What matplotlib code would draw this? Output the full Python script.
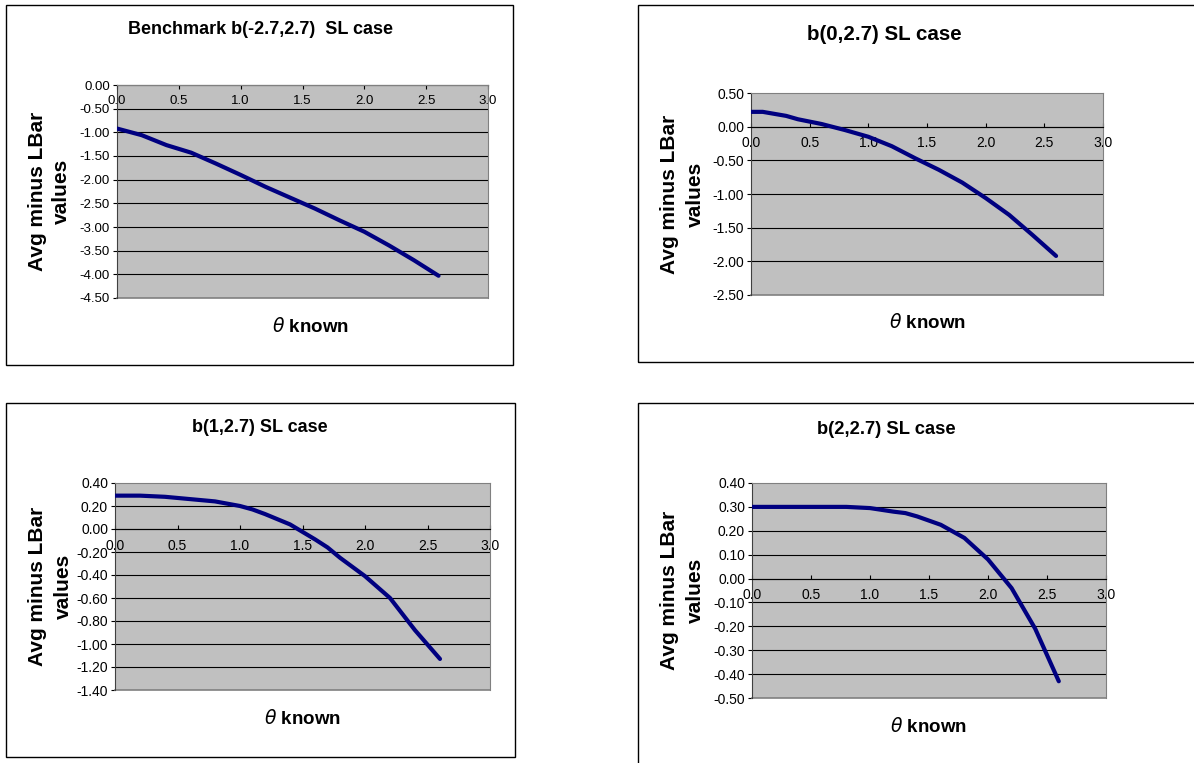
import matplotlib
matplotlib.use("Agg")
import matplotlib.pyplot as plt
from matplotlib.patches import Rectangle

# chart data
theta_a = [0.0, 0.2, 0.4, 0.6, 0.8, 1.0, 1.2, 1.4, 1.6, 1.8, 2.0, 2.2, 2.4, 2.6]
bench_vals = [-0.92, -1.06, -1.27, -1.43, -1.66, -1.90, -2.15, -2.38, -2.61, -2.86, -3.10, -3.39, -3.70, -4.03]

theta_b = [0.0, 0.1, 0.3, 0.4, 0.6, 0.8, 1.0, 1.2, 1.4, 1.6, 1.8, 2.0, 2.2, 2.4, 2.6]
b0_vals = [0.22, 0.22, 0.16, 0.11, 0.04, -0.05, -0.15, -0.29, -0.47, -0.64, -0.83, -1.06, -1.31, -1.61, -1.92]

theta_c = [0.0, 0.2, 0.4, 0.6, 0.8, 1.0, 1.1, 1.2, 1.4, 1.6, 1.7, 1.8, 2.0, 2.2, 2.4, 2.6]
b1_vals = [0.29, 0.29, 0.28, 0.26, 0.24, 0.20, 0.17, 0.13, 0.04, -0.09, -0.16, -0.25, -0.41, -0.60, -0.88, -1.13]

theta_d = [0.0, 0.2, 0.4, 0.6, 0.8, 1.0, 1.2, 1.3, 1.4, 1.6, 1.8, 2.0, 2.2, 2.4, 2.6]
b2_vals = [0.30, 0.30, 0.30, 0.30, 0.30, 0.295, 0.28, 0.274, 0.26, 0.225, 0.17, 0.08, -0.04, -0.21, -0.43]

titles = ["Benchmark b(-2.7,2.7)  SL case", "b(0,2.7) SL case", "b(1,2.7) SL case", "b(2,2.7) SL case"]
x_ticks = [0.0, 0.5, 1.0, 1.5, 2.0, 2.5, 3.0]

plt.rcParams["font.family"] = ["Liberation Sans", "DejaVu Sans"]

W, H = 1194, 763
fig = plt.figure(figsize=(W / 100, H / 100), dpi=100)
fig.patch.set_facecolor("white")

lineColor = "#000080"
plotBg = "#C0C0C0"


def fx(px):
    return px / W


def fy(py):
    return 1 - py / H


def panel(frame, area, title, title_pos, title_size, ylab_x, xlab_pos,
          xs, ys, ylim, ystep, tick_dir, tick_size):
    # outer chart frame
    fx0, fy0, fx1, fy1 = frame
    fig.patches.append(Rectangle((fx(fx0), fy(fy1)), (fx1 - fx0) / W, (fy1 - fy0) / H,
                                 transform=fig.transFigure, fill=False,
                                 edgecolor="black", linewidth=1.0))

    x0, y0, x1, y1 = area
    ax = fig.add_axes([fx(x0), fy(y1), (x1 - x0) / W, (y1 - y0) / H])
    ax.set_facecolor(plotBg)
    ax.plot(xs, ys, color=lineColor, linewidth=3.0, solid_capstyle="round", zorder=3)

    ax.set_xlim(0, 3.0)
    ax.set_ylim(*ylim)
    n = int(round((ylim[1] - ylim[0]) / ystep))
    yt = [ylim[0] + i * ystep for i in range(n + 1)]
    ax.set_yticks(yt)
    ax.set_yticklabels(["%.2f" % v for v in yt])
    ax.set_xticks(x_ticks)
    ax.set_xticklabels(["%.1f" % v for v in x_ticks])

    # grid lines, black, skip the plot area edges
    ax.yaxis.grid(True, color="black", linewidth=0.8)
    gl = ax.get_ygridlines()
    gl[0].set_visible(False)
    gl[-1].set_visible(False)
    ax.set_axisbelow(True)

    for s in ["top", "right"]:
        ax.spines[s].set_color("#808080")
    ax.spines["left"].set_color("#404040")
    ax.spines["bottom"].set_position(("data", 0))
    ax.spines["bottom"].set_color("black")
    ax.plot([0, 1], [0, 0], transform=ax.transAxes, color="#808080",
            linewidth=1.2, clip_on=False)

    ax.tick_params(axis="y", direction="out", length=3, labelsize=tick_size, pad=2)
    xpad = 4.5 if tick_dir == "out" else 7
    ax.tick_params(axis="x", direction=tick_dir, length=3, labelsize=tick_size, pad=xpad)

    fig.text(fx(title_pos[0]), fy(title_pos[1]), title, ha="center", va="center",
             fontsize=title_size, fontweight="bold")
    fig.text(fx(ylab_x[0]), fy((y0 + y1) / 2), "Avg minus LBar", rotation=90,
             ha="center", va="center", fontsize=15, fontweight="bold")
    fig.text(fx(ylab_x[1]), fy((y0 + y1) / 2), "values", rotation=90,
             ha="center", va="center", fontsize=15, fontweight="bold")
    fig.text(fx(xlab_pos[0]), fy(xlab_pos[1]), r"$\theta$ known", ha="center",
             va="center", fontsize=13.5, fontweight="bold")
    return ax


panel((6, 5, 513, 365), (117, 85, 488, 298), titles[0], (260, 30), 13,
      (38, 61), (310, 327), theta_a, bench_vals, (-4.5, 0.0), 0.5, "out", 9.5)
panel((638, 5, 1300, 362), (751, 93, 1103, 295), titles[1], (884, 34), 14.8,
      (670, 695), (927, 323), theta_b, b0_vals, (-2.5, 0.5), 0.5, "in", 10)
panel((6, 403, 515, 757), (115, 483, 490, 690), titles[2], (260, 427), 13,
      (38, 63), (302, 718), theta_c, b1_vals, (-1.4, 0.4), 0.2, "in", 10)
panel((638, 403, 1300, 900), (752, 483, 1106, 698), titles[3], (886, 429), 13.2,
      (670, 695), (928, 727), theta_d, b2_vals, (-0.5, 0.4), 0.1, "in", 10)

fig.savefig("out.png", dpi=100, facecolor="white")
